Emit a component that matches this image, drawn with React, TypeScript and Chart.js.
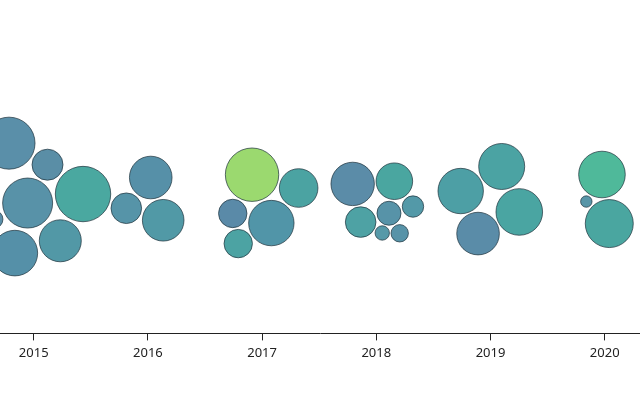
import React, { useEffect, useRef } from "react";
import { Chart, registerables } from "chart.js";

Chart.register(...registerables);

// Bubble position along the time axis (fractional years)
const years: number[] = [
  2014.784, 2015.121, 2014.947, 2015.432, 2014.835, 2015.233, 2014.652,
  2016.025, 2015.811, 2016.134,
  2016.912, 2017.32, 2016.743, 2017.081, 2016.791,
  2017.793, 2018.158, 2018.321, 2018.111, 2017.863, 2018.052, 2018.205,
  2019.098, 2018.739, 2019.252, 2018.891,
  2019.976, 2019.839, 2020.04,
];

// Beeswarm offset from the centre line
const offsets: number[] = [
  57, 35.5, -2.8, 6.2, -52.8, -40.5, -19,
  22.7, -8, -20,
  25.5, 12.2, -13.2, -22.8, -43.3,
  16.3, 19, -6.3, -13, -21.8, -32.7, -33,
  33.7, 9.2, -11.7, -33.3,
  25.7, -1.3, -23.3,
];

// Bubble radius
const radii: number[] = [
  26, 15.5, 25, 27.7, 22.8, 21, 9,
  21.3, 15.3, 20.8,
  26.7, 19.3, 14.2, 22.7, 14.2,
  21.7, 18.3, 10.7, 12, 15.3, 7.2, 8.7,
  23, 22.7, 23.3, 21.3,
  23.3, 5.7, 24,
];

const colors: string[] = [
  "#5a8fa9", "#5a8ea6", "#5892a8", "#4aa8a0", "#5590a8", "#5298a6", "#5a8fa8",
  "#5690a8", "#5694a8", "#5199a6",
  "#9bd96f", "#4ba3a2", "#5a8aa8", "#5195a8", "#4ca3a3",
  "#5b8ca8", "#4aa6a0", "#5399a8", "#5793a8", "#4ea2a4", "#5699a8", "#5793a8",
  "#4ba3a3", "#4d9fa5", "#4aa5a2", "#5a8ca8",
  "#4fb99a", "#5896a8", "#4aa6a0",
];

const tickYears: number[] = [2015, 2016, 2017, 2018, 2019, 2020];

export default function App() {
  const ref = useRef<HTMLCanvasElement | null>(null);

  useEffect(() => {
    if (!ref.current) return;
    const chart = new Chart(ref.current, {
      type: "bubble",
      data: {
        datasets: [
          {
            data: years.map((x, i) => ({ x, y: offsets[i], r: radii[i] })),
            backgroundColor: colors,
            borderColor: "rgba(30,50,60,0.7)",
            borderWidth: 1,
            hoverRadius: 0,
          },
        ],
      },
      options: {
        responsive: false,
        animation: false,
        events: [],
        clip: false as any,
        layout: { autoPadding: false, padding: { left: 0, right: 0, top: 0, bottom: 34 } },
        plugins: { legend: { display: false }, tooltip: { enabled: false } },
        scales: {
          x: {
            type: "linear",
            min: 2014.705,
            max: 2020.309,
            afterBuildTicks: (scale: any) => {
              scale.ticks = tickYears.map((v) => ({ value: v }));
            },
            grid: {
              drawOnChartArea: false,
              tickLength: 7,
              color: "#222",
            },
            border: { color: "#222", width: 1 },
            ticks: {
              callback: (v: any) => String(v),
              color: "#222",
              padding: 5,
              maxRotation: 0,
              font: { family: "'Noto Sans', sans-serif", size: 13 },
            },
          },
          y: {
            type: "linear",
            display: false,
            min: -133,
            max: 200,
          },
        },
      },
    });
    return () => chart.destroy();
  }, []);

  return (
    <div style={{ position: "fixed", left: 0, top: 0, width: 640, height: 400, background: "#fff" }}>
      <canvas ref={ref} width={640} height={400} style={{ display: "block" }} />
    </div>
  );
}
